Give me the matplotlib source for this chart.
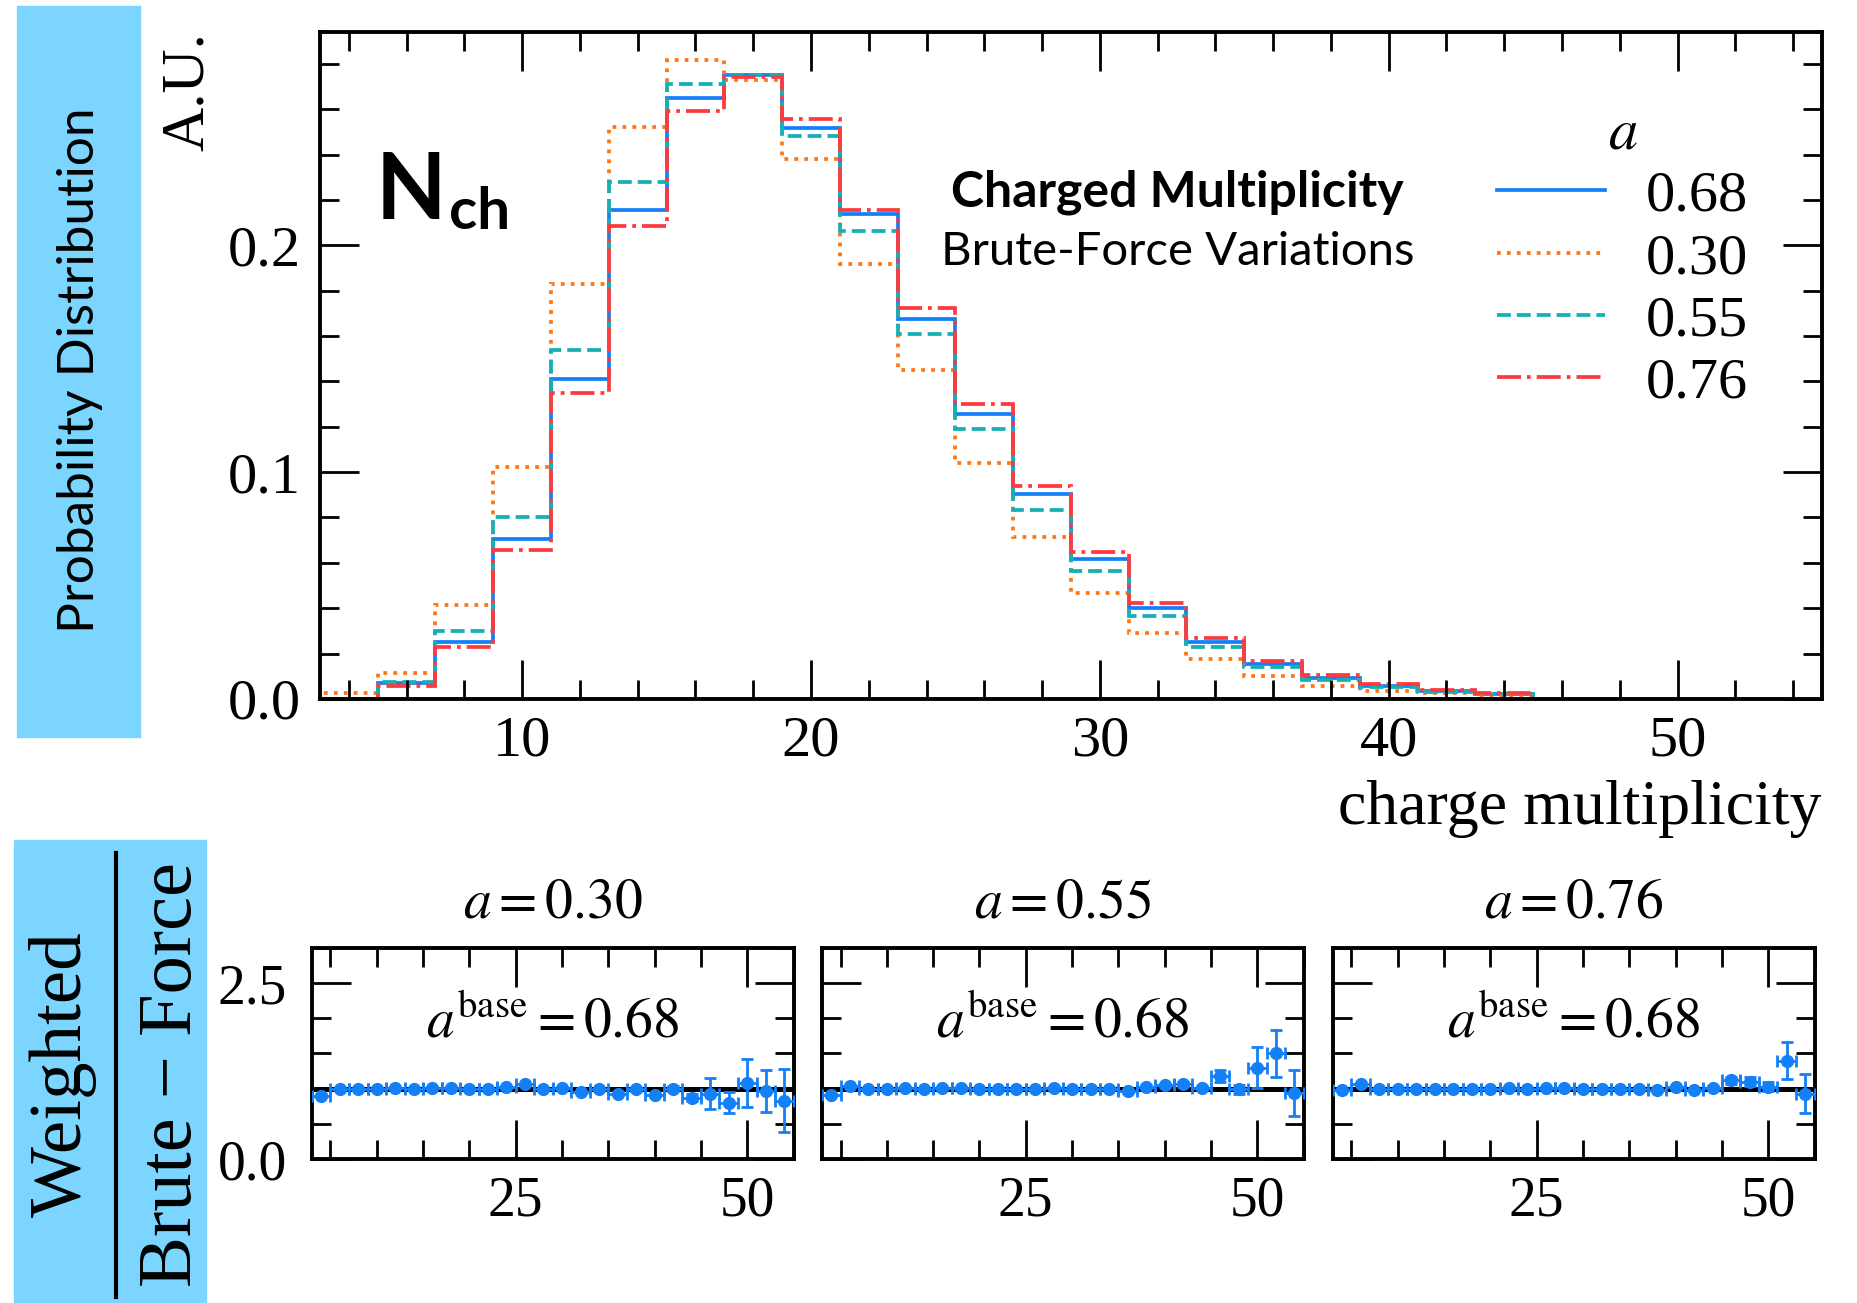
import numpy as np
import matplotlib
matplotlib.use('Agg')
import matplotlib.pyplot as plt
from matplotlib.patches import Rectangle
from matplotlib.lines import Line2D
from matplotlib.ticker import MultipleLocator, FormatStrFormatter

plt.rcParams['font.family'] = 'serif'
plt.rcParams['font.serif'] = ['Liberation Serif', 'DejaVu Serif']
plt.rcParams['mathtext.fontset'] = 'stix'

# histogram bins (edges) and the four a-variations
edges = np.arange(3, 47, 2)
a_labels = ['0.68', '0.30', '0.55', '0.76']
h_068 = [0.0, 0.0069, 0.0251, 0.0705, 0.141, 0.2156, 0.2648, 0.2752, 0.2519, 0.2139, 0.1675,
         0.1257, 0.0905, 0.0618, 0.0400, 0.0253, 0.0156, 0.0094, 0.0058, 0.0036, 0.0022]
h_030 = [0.0025, 0.0113, 0.0416, 0.1024, 0.183, 0.252, 0.2816, 0.2729, 0.2382, 0.1917, 0.145,
         0.104, 0.0713, 0.0465, 0.029, 0.0176, 0.0101, 0.0059, 0.0036, 0.0025, 0.0015]
h_055 = [0.0, 0.0075, 0.030, 0.0804, 0.154, 0.228, 0.2713, 0.2752, 0.2481, 0.2065, 0.1608,
         0.1192, 0.0832, 0.0564, 0.0365, 0.0227, 0.014, 0.0082, 0.0051, 0.003, 0.002]
h_076 = [0.0, 0.0055, 0.0228, 0.0657, 0.135, 0.2085, 0.259, 0.2743, 0.2558, 0.2156, 0.1725,
         0.130, 0.0937, 0.0648, 0.0424, 0.027, 0.0169, 0.0105, 0.0065, 0.0039, 0.0025]

# ratio panels: weighted / brute-force
r_x = np.arange(4, 56, 2)
r_030 = [0.90, 1.00, 0.99, 1.00, 1.01, 0.99, 1.01, 1.01, 1.00, 1.00, 1.02, 1.06, 0.99,
         1.01, 0.95, 1.00, 0.93, 0.99, 0.91, 1.00, 0.87, 0.93, 0.80, 1.08, 0.97, 0.83]
e_030 = [0.02, 0.01, 0.01, 0.01, 0.01, 0.01, 0.01, 0.01, 0.01, 0.01, 0.01, 0.01, 0.01,
         0.01, 0.01, 0.01, 0.02, 0.02, 0.02, 0.04, 0.05, 0.22, 0.15, 0.34, 0.30, 0.45]
r_055 = [0.91, 1.04, 0.99, 1.00, 1.01, 1.00, 1.01, 1.01, 1.00, 1.00, 1.00, 1.00, 1.01,
         1.00, 0.99, 1.00, 0.96, 1.03, 1.05, 1.07, 1.01, 1.18, 0.99, 1.30, 1.50, 0.94]
e_055 = [0.02, 0.01, 0.01, 0.01, 0.01, 0.01, 0.01, 0.01, 0.01, 0.01, 0.01, 0.01, 0.01,
         0.01, 0.01, 0.01, 0.02, 0.02, 0.02, 0.03, 0.03, 0.08, 0.06, 0.29, 0.33, 0.33]
r_076 = [0.98, 1.07, 0.99, 0.99, 0.99, 1.00, 1.00, 1.00, 0.99, 1.01, 1.00, 1.01, 1.01,
         1.00, 0.99, 1.00, 1.00, 0.98, 1.02, 0.98, 1.01, 1.12, 1.10, 1.03, 1.40, 0.93]
e_076 = [0.02, 0.01, 0.01, 0.01, 0.01, 0.01, 0.01, 0.01, 0.01, 0.01, 0.01, 0.01, 0.01,
         0.01, 0.01, 0.01, 0.02, 0.02, 0.02, 0.02, 0.03, 0.05, 0.06, 0.07, 0.26, 0.28]

blue = '#1480f7'
orange = '#ff7514'
teal = '#16b0b4'
red = '#ff3a3f'
box = '#7bd5ff'

fig = plt.figure(figsize=(18.58, 13.03), dpi=100)

# side boxes
fig.add_artist(Rectangle((0.0092, 0.4344), 0.0662, 0.561, transform=fig.transFigure,
                         color=box, zorder=0))
fig.text(0.043, 0.716, 'Probability Distribution', rotation=90, ha='center', va='center',
         family='Lato', fontsize=37)
fig.add_artist(Rectangle((0.0075, 0.0), 0.1033, 0.3553, transform=fig.transFigure,
                         color=box, zorder=0))
fig.text(0.034, 0.1757, 'Weighted', rotation=90, ha='center', va='center', fontsize=54)
fig.text(0.093, 0.175, 'Brute \u2212 Force', rotation=90, ha='center', va='center', fontsize=55)
fig.add_artist(Line2D([0.0624, 0.0624], [0.0046, 0.3454], transform=fig.transFigure,
                      color='black', lw=3))

# main histogram
ax = fig.add_axes([0.1722, 0.4636, 0.8084, 0.5118])
ax.stairs(h_068, edges, color=blue, lw=2.7, ls='-', label=a_labels[0])
ax.stairs(h_030, edges, color=orange, lw=2.7, ls=':', label=a_labels[1])
ax.stairs(h_055, edges, color=teal, lw=2.7, ls='--', label=a_labels[2])
ax.stairs(h_076, edges, color=red, lw=2.7, ls='-.', label=a_labels[3])
ax.set_xlim(3, 55)
ax.set_ylim(0, 0.294)
ax.xaxis.set_major_locator(MultipleLocator(10))
ax.xaxis.set_minor_locator(MultipleLocator(2))
ax.yaxis.set_major_locator(MultipleLocator(0.1))
ax.yaxis.set_minor_locator(MultipleLocator(0.02))
ax.yaxis.set_major_formatter(FormatStrFormatter('%.1f'))
ax.tick_params(which='both', direction='in', top=True, right=True, width=2, labelsize=42)
ax.tick_params(which='major', length=28)
ax.tick_params(which='minor', length=14)
ax.tick_params(axis='y', pad=14)
ax.tick_params(axis='x', pad=12)
for s in ax.spines.values():
    s.set_linewidth(2.8)

ax.text(1.0, -0.187, 'charge multiplicity', transform=ax.transAxes, ha='right',
        va='baseline', fontsize=46)
ax.text(-0.088, 1.0, 'A.U.', transform=ax.transAxes, rotation=90, ha='center', va='top',
        fontsize=44)
n_txt = ax.text(0.037, 0.72, 'N', transform=ax.transAxes, family='Lato', weight='bold',
                fontsize=66, va='baseline')
ax.annotate('ch', xy=(1.0, 0.0), xycoords=n_txt, xytext=(2, 4), textcoords='offset points',
            family='Lato', weight='bold', fontsize=42, va='baseline')
ax.text(0.571, 0.760, 'Charged Multiplicity', transform=ax.transAxes, ha='center',
        va='center', family='Lato', weight='bold', fontsize=36)
ax.text(0.571, 0.670, 'Brute-Force Variations', transform=ax.transAxes, ha='center',
        va='center', family='Lato', fontsize=34)
leg = ax.legend(loc='upper right', bbox_to_anchor=(0.951, 0.885), frameon=False,
                title='$a$', fontsize=42, title_fontsize=42, handlelength=1.85,
                handletextpad=0.7, labelspacing=0.16, borderpad=0, borderaxespad=0)

# ratio panels
panels = [(0.1679, '0.30', r_030, e_030), (0.4424, '0.55', r_055, e_055),
          (0.7174, '0.76', r_076, e_076)]
for i, (x0, lab, r, e) in enumerate(panels):
    rax = fig.add_axes([x0, 0.1105, 0.2592, 0.162])
    rax.axhline(1.0, color='black', lw=3.6, zorder=1)
    rax.errorbar(r_x, r, yerr=e, xerr=1, fmt='o', color=blue, ms=8.5, elinewidth=2,
                 capsize=4, capthick=2, zorder=3)
    rax.set_xlim(3, 55)
    rax.set_ylim(0, 3.0)
    rax.xaxis.set_major_locator(MultipleLocator(25))
    rax.xaxis.set_minor_locator(MultipleLocator(5))
    rax.yaxis.set_major_locator(MultipleLocator(2.5))
    rax.yaxis.set_minor_locator(MultipleLocator(0.5))
    rax.yaxis.set_major_formatter(FormatStrFormatter('%.1f'))
    rax.tick_params(which='both', direction='in', top=True, right=True, width=2, labelsize=40)
    rax.tick_params(which='major', length=28)
    rax.tick_params(which='minor', length=14)
    rax.tick_params(axis='y', pad=18)
    rax.tick_params(axis='x', pad=12)
    if i > 0:
        rax.set_yticklabels([])
    for s in rax.spines.values():
        s.set_linewidth(2.8)
    rax.set_title('$a = ' + lab + '$', fontsize=40, pad=22)
    rax.text(0.5, 0.578, r'$a^{\rm base} = 0.68$', transform=rax.transAxes, ha='center',
             va='baseline', fontsize=40)

fig.savefig('out.png', dpi=100)
